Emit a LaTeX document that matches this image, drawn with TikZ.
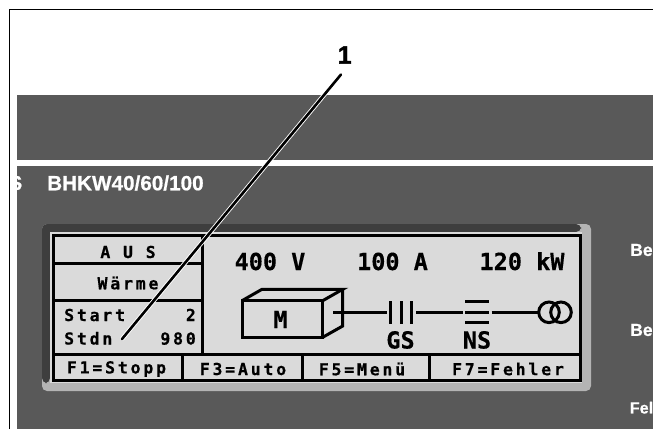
\documentclass[tikz,border=0pt]{standalone}
\usepackage{fontspec}
\setmainfont{Liberation Sans}
\newfontfamily\lcdsmall[LetterSpace=17,FakeBold=0.5]{DejaVu Sans Mono Bold}
\newfontfamily\lcdbig[FakeBold=0.4]{DejaVu Sans Mono Bold}
\newfontfamily\heavy[FakeBold=1.5]{Liberation Sans Bold}
\newfontfamily\panelfont[FakeBold=0.6]{Liberation Sans Bold}
\definecolor{panel}{HTML}{595959}
\definecolor{bezeldark}{HTML}{3E3E3E}
\definecolor{bezellight}{HTML}{B4B4B4}
\definecolor{lcd}{HTML}{DADADA}
\tikzset{
  lcdline/.style={draw=black,line width=3pt},
  thinline/.style={draw=black,line width=2.4pt},
  small/.style={font=\lcdsmall\fontsize{16.5}{16.5}\selectfont,inner sep=0pt,text=black},
  big/.style={font=\lcdbig\fontsize{23.5}{24}\selectfont,inner sep=0pt,text=black},
  paneltext/.style={font=\panelfont\fontsize{16.2}{17}\selectfont,text=white,inner sep=0pt,anchor=west},
  callout/.style={draw=black,line width=2.6pt,line cap=round},
  halo/.style={draw=white,line width=4.4pt},
}
\begin{document}
\begin{tikzpicture}[x=1pt,y=-1pt]
\useasboundingbox (0,0) rectangle (653,429);
\clip (0,0) rectangle (653,429);
\fill[white] (0,0) rectangle (653,429);
% frame and panel
\fill[panel] (17,95) rectangle (653,429);
\fill[white] (17,160) rectangle (653,166);
\draw[black,line width=1.2pt] (9.5,429) -- (9.5,9.5) -- (653,9.5);
% panel texts
\begin{scope}
\clip (17,166) rectangle (653,429);
\node[paneltext,anchor=east,font=\panelfont\fontsize{20}{20}\selectfont] (frag) at (22.5,183) {S};
\end{scope}
\node[paneltext,font=\panelfont\fontsize{20.7}{20}\selectfont] (title) at (47,183) {BHKW40/60/100};
\node[paneltext,font=\panelfont\fontsize{17.5}{17}\selectfont] (be1) at (630,250) {Be};
\node[paneltext,font=\panelfont\fontsize{17.5}{17}\selectfont] (be2) at (630,330) {Be};
\node[paneltext] (fe) at (629.6,407.7) {Fel};
% bezel
\fill[bezellight,rounded corners=5pt] (42,224) rectangle (591,391);
\fill[bezeldark,rounded corners=5pt] (42,383) -- (42,224) -- (581,224) -- (581,232) -- (50,232) -- (50,383) -- cycle;
\fill[lcd] (50,232) rectangle (582,383);
% lcd grid
\draw[lcdline] (53.5,235.5) rectangle (580.5,380.7);
\draw[lcdline] (202.7,235.5) -- (202.7,354.5);
\draw[lcdline] (53.5,354.5) -- (580.5,354.5);
\draw[lcdline] (53.5,263.5) -- (202.7,263.5);
\draw[lcdline] (53.5,300) -- (202.7,300);
\draw[lcdline] (182.3,354.5) -- (182.3,380.7);
\draw[lcdline] (302.7,354.5) -- (302.7,380.7);
\draw[lcdline] (429,354.5) -- (429,380.7);
% status texts
\node[small] (aus) at (128,252) {A U S};
\node[small] (waerme) at (128,283) {Wärme};
\node[small,anchor=base west] (start) at (64,321) {Start};
\node[small,anchor=base east] (n2) at (196,321) {2};
\node[small,anchor=base west] (stdn) at (64,344.5) {Stdn};
\node[small,anchor=base east] (n980) at (196,344.5) {980};
\node[small] (f1) at (116.5,369) {F1=Stopp};
\node[small] (f3) at (243,369) {F3=Auto};
\node[small] (f5) at (362,369) {F5=Menü};
\node[small] (f7) at (508,369) {F7=Fehler};
% values
\node[big,anchor=base] (volt) at (270,270) {400 V};
\node[big,anchor=base] (amp) at (392.5,270) {100 A};
\node[big,anchor=base] (kw) at (522,270) {120 kW};
% motor
\draw[lcdline,line join=miter] (242,300.7) rectangle (322.7,337.3);
\draw[lcdline,line join=miter] (242,300.7) -- (262,289.3) -- (342.7,289.3) -- (322.7,300.7);
\draw[lcdline,line join=miter] (342.7,289.3) -- (342.7,326) -- (322.7,337.3);
\node[big,anchor=base] (m) at (280.5,328) {M};
% single line diagram
\coordinate (motorout) at (333,312.3);
\coordinate (gsin) at (387,312.3);
\coordinate (gsout) at (416,312.3);
\coordinate (nsin) at (462.7,312.3);
\coordinate (nsout) at (491.7,312.3);
\coordinate (trin) at (538.5,312.3);
\draw[lcdline] (motorout) -- (gsin);
\draw[thinline] (gsout) -- (nsin);
\draw[thinline] (nsout) -- (trin);
\foreach \x in {390,401,411.7} \draw[lcdline] (\x,301) -- (\x,324);
\draw[lcdline] (465,301) -- (489,301);
\draw[thinline] (465,312.3) -- (489,312.3);
\draw[lcdline] (465,322.7) -- (489,322.7);
\draw[lcdline] (549,312.3) circle (10.3);
\draw[lcdline] (561,312.3) circle (10.3);
\node[big,anchor=base] (gs) at (400.5,348.5) {GS};
\node[big,anchor=base] (ns) at (477,348.5) {NS};
% callout
\node[font=\heavy\fontsize{25}{25}\selectfont,inner sep=0pt] (one) at (344.7,55) {1};
\coordinate (calloutA) at (341,74.5);
\coordinate (calloutB) at (122,339);
\draw[halo] (calloutA) -- (calloutB);
\draw[callout] (calloutA) -- (calloutB);
\end{tikzpicture}
\end{document}
